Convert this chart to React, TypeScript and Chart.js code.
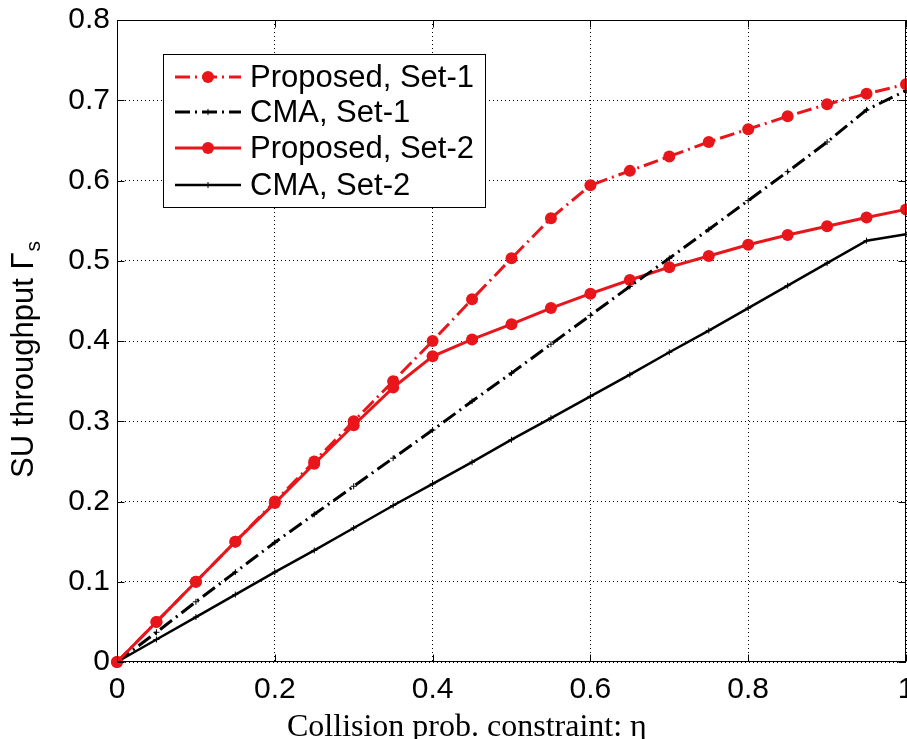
import React, { useEffect, useRef } from 'react';
import { Chart, registerables } from 'chart.js';

Chart.register(...registerables);

// ---- data ----
const eta = [0, 0.05, 0.1, 0.15, 0.2, 0.25, 0.3, 0.35, 0.4, 0.45, 0.5, 0.55, 0.6, 0.65, 0.7, 0.75, 0.8, 0.85, 0.9, 0.95, 1];
const proposedSet1 = [0, 0.05, 0.1, 0.15, 0.2, 0.25, 0.3, 0.35, 0.4, 0.452, 0.503, 0.553, 0.594, 0.612, 0.63, 0.648, 0.664, 0.68, 0.695, 0.708, 0.72];
const cmaSet1 = [0, 0.037, 0.075, 0.112, 0.149, 0.184, 0.219, 0.254, 0.289, 0.325, 0.36, 0.396, 0.432, 0.468, 0.503, 0.539, 0.575, 0.611, 0.648, 0.688, 0.712];
const proposedSet2 = [0, 0.05, 0.1, 0.15, 0.198, 0.247, 0.295, 0.342, 0.381, 0.402, 0.421, 0.441, 0.459, 0.476, 0.492, 0.506, 0.52, 0.532, 0.543, 0.554, 0.564];
const cmaSet2 = [0, 0.028, 0.056, 0.084, 0.112, 0.139, 0.167, 0.195, 0.222, 0.249, 0.277, 0.304, 0.331, 0.358, 0.386, 0.413, 0.441, 0.469, 0.497, 0.525, 0.533];
const seriesNames = ['Proposed, Set-1', 'CMA, Set-1', 'Proposed, Set-2', 'CMA, Set-2'];
const xTickLabels = ['0', '0.2', '0.4', '0.6', '0.8', '1'];
const yTickLabels = ['0', '0.1', '0.2', '0.3', '0.4', '0.5', '0.6', '0.7', '0.8'];
const xTitle = 'Collision prob. constraint: \u03b7';
const yTitleMain = 'SU throughput \u0393';
const yTitleSub = 's';

const RED = '#e8161b';
const BLACK = '#000000';
const SANS = '"Liberation Sans", Arial, sans-serif';
const SERIF = '"Liberation Serif", "Times New Roman", serif';
const DASHDOT = [15, 5, 2, 5];

const decorPlugin = {
  id: 'decor',
  afterDraw(chart: any) {
    const { ctx, chartArea: a, scales } = chart;
    const xs = scales.x;
    const ys = scales.y;
    ctx.save();
    // axes box
    ctx.strokeStyle = BLACK;
    ctx.lineWidth = 1;
    ctx.setLineDash([]);
    const L = Math.round(a.left) + 0.5;
    const R = Math.round(a.right) - 0.5;
    const T = Math.round(a.top) + 0.5;
    const B = Math.round(a.bottom) - 0.5;
    ctx.strokeRect(L, T, R - L, B - T);
    // inward ticks
    const tl = 7;
    ctx.beginPath();
    xs.ticks.forEach((t: any) => {
      const px = Math.round(xs.getPixelForValue(t.value)) + 0.5;
      ctx.moveTo(px, B); ctx.lineTo(px, B - tl);
      ctx.moveTo(px, T); ctx.lineTo(px, T + tl);
    });
    ys.ticks.forEach((t: any) => {
      const py = Math.round(ys.getPixelForValue(t.value)) + 0.5;
      ctx.moveTo(L, py); ctx.lineTo(L + tl, py);
      ctx.moveTo(R, py); ctx.lineTo(R - tl, py);
    });
    ctx.stroke();

    // legend
    const bx = 163, by = 54, bw = 322, bh = 153;
    ctx.fillStyle = '#ffffff';
    ctx.fillRect(bx, by, bw, bh);
    ctx.strokeStyle = BLACK;
    ctx.lineWidth = 1;
    ctx.strokeRect(bx + 0.5, by + 0.5, bw, bh);
    const rows = [77, 112, 148, 185];
    chart.data.datasets.forEach((ds: any, i: number) => {
      const yy = rows[i];
      ctx.save();
      ctx.strokeStyle = ds.borderColor;
      ctx.lineWidth = ds.borderWidth;
      ctx.setLineDash(ds.borderDash || []);
      ctx.beginPath();
      ctx.moveTo(175, yy);
      ctx.lineTo(241, yy);
      ctx.stroke();
      ctx.setLineDash([]);
      const cx = 208;
      if (ds.pointStyle === 'circle') {
        ctx.fillStyle = ds.pointBackgroundColor;
        ctx.beginPath();
        ctx.arc(cx, yy, ds.pointRadius, 0, Math.PI * 2);
        ctx.fill();
      } else {
        ctx.lineWidth = 1;
        ctx.strokeStyle = ds.pointBorderColor;
        ctx.beginPath();
        ctx.moveTo(cx - 3, yy); ctx.lineTo(cx + 3, yy);
        ctx.moveTo(cx, yy - 3); ctx.lineTo(cx, yy + 3);
        ctx.stroke();
      }
      ctx.restore();
      ctx.fillStyle = BLACK;
      ctx.font = `31px ${SANS}`;
      ctx.textAlign = 'left';
      ctx.textBaseline = 'middle';
      ctx.fillText(ds.label, 250, yy + 1);
    });

    // x title
    ctx.fillStyle = BLACK;
    ctx.font = `32px ${SERIF}`;
    ctx.textAlign = 'left';
    ctx.textBaseline = 'alphabetic';
    ctx.fillText(xTitle, 287, 736);

    // y title (rotated, with subscript)
    ctx.save();
    ctx.translate(33, 478);
    ctx.rotate(-Math.PI / 2);
    ctx.font = `31px ${SANS}`;
    ctx.textAlign = 'left';
    ctx.textBaseline = 'alphabetic';
    ctx.fillText(yTitleMain, 0, 0);
    const w = ctx.measureText(yTitleMain).width;
    ctx.font = `21px ${SANS}`;
    ctx.fillText(yTitleSub, w + 1, 7);
    ctx.restore();

    ctx.restore();
  },
};

export default function App() {
  const ref = useRef<HTMLCanvasElement | null>(null);

  useEffect(() => {
    document.body.style.margin = '0';
    if (!ref.current) return;
    const mk = (vals: number[]) => eta.map((x, i) => ({ x, y: vals[i] }));
    const chart = new Chart(ref.current, {
      type: 'line',
      data: {
        datasets: [
          {
            label: seriesNames[0],
            data: mk(proposedSet1),
            borderColor: RED,
            borderWidth: 3,
            borderDash: DASHDOT,
            pointStyle: 'circle',
            pointRadius: 6,
            pointBackgroundColor: RED,
            pointBorderColor: RED,
            pointBorderWidth: 0,
            fill: false,
            tension: 0,
          },
          {
            label: seriesNames[1],
            data: mk(cmaSet1),
            borderColor: BLACK,
            borderWidth: 3,
            borderDash: DASHDOT,
            pointStyle: 'cross',
            pointRadius: 3,
            pointBackgroundColor: BLACK,
            pointBorderColor: BLACK,
            pointBorderWidth: 1,
            fill: false,
            tension: 0,
          },
          {
            label: seriesNames[2],
            data: mk(proposedSet2),
            borderColor: RED,
            borderWidth: 3,
            borderDash: [],
            pointStyle: 'circle',
            pointRadius: 6,
            pointBackgroundColor: RED,
            pointBorderColor: RED,
            pointBorderWidth: 0,
            fill: false,
            tension: 0,
          },
          {
            label: seriesNames[3],
            data: mk(cmaSet2),
            borderColor: BLACK,
            borderWidth: 2.5,
            borderDash: [],
            pointStyle: 'cross',
            pointRadius: 3,
            pointBackgroundColor: BLACK,
            pointBorderColor: BLACK,
            pointBorderWidth: 1,
            fill: false,
            tension: 0,
          },
        ],
      },
      options: {
        animation: false,
        responsive: true,
        maintainAspectRatio: false,
        layout: { autoPadding: false, padding: { top: 20, right: 1, left: 0, bottom: 0 } },
        plugins: { legend: { display: false }, tooltip: { enabled: false } },
        events: [],
        datasets: { line: { clip: false } } as any,
        scales: {
          x: {
            type: 'linear',
            min: 0,
            max: 1,
            ticks: {
              stepSize: 0.2,
              color: BLACK,
              padding: 10,
              maxRotation: 0,
              font: { family: SANS, size: 30 },
              callback: (_v: any, i: number) => xTickLabels[i],
            },
            grid: { color: BLACK, lineWidth: 1, drawTicks: false },
            border: { display: false, dash: [1, 3] },
            afterFit: (s: any) => {
              s.height = 77;
              s.paddingLeft = 0;
              s.paddingRight = 0;
            },
          },
          y: {
            type: 'linear',
            min: 0,
            max: 0.8,
            ticks: {
              stepSize: 0.1,
              color: BLACK,
              padding: 7,
              font: { family: SANS, size: 30 },
              callback: (_v: any, i: number) => yTickLabels[i],
            },
            grid: { color: BLACK, lineWidth: 1, drawTicks: false },
            border: { display: false, dash: [1, 3] },
            afterFit: (s: any) => {
              s.width = 117;
              s.paddingTop = 0;
              s.paddingBottom = 0;
            },
          },
        },
      },
      plugins: [decorPlugin],
    } as any);
    return () => chart.destroy();
  }, []);

  return (
    <div style={{ position: 'absolute', left: 0, top: 0, width: 907, height: 739 }}>
      <canvas ref={ref} />
    </div>
  );
}
